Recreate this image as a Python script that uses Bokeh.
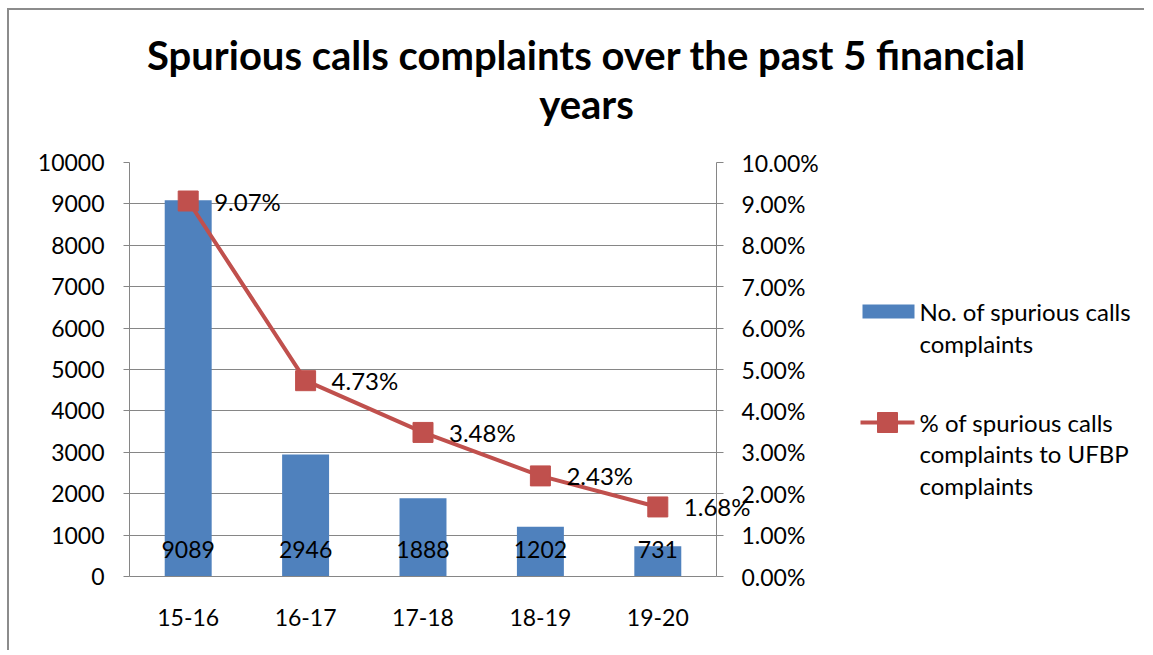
from bokeh.plotting import figure
from bokeh.layouts import column, row
from bokeh.models import (FactorRange, Range1d, LinearAxis, SingleIntervalTicker,
                          NumeralTickFormatter)
from bokeh.core.properties import value
from bokeh.embed import file_html
from bokeh.resources import INLINE

# ---- data ----
categories = ["15-16", "16-17", "17-18", "18-19", "19-20"]
complaints = [9089, 2946, 1888, 1202, 731]
pct_of_ufbp = [0.0907, 0.0473, 0.0348, 0.0243, 0.0168]
count_labels = [str(v) for v in complaints]
pct_labels = ["%.2f%%" % (v * 100) for v in pct_of_ufbp]

title_lines = ["Spurious calls complaints over the past 5 financial", "years"]
legend_bar = ["No. of spurious calls", "complaints"]
legend_line = ["% of spurious calls", "complaints to UFBP", "complaints"]

FONT = "Lato"
FS_AX = "23px"
FS_LBL = "24px"
BLUE = "#4F81BD"
RED = "#C0504D"
GRID = "#868686"

# picture-space layout: content starts at (OX, OY) inside the grey border
OX, OY = 9, 10
RIGHT = 1144
SPLIT_Y = 130      # title band bottom
SPLIT_X = 840      # main chart / legend split
BOTTOM = 650
FL, FR, FT, FB = 129, 716, 162, 576   # plot frame edges (picture px)


def blank(width, height, xr, yr):
    f = figure(width=width, height=height, x_range=xr, y_range=yr,
               output_backend="svg", toolbar_location=None,
               x_axis_location=None, y_axis_location=None,
               min_border=0, min_border_left=0, min_border_right=0,
               min_border_top=0, min_border_bottom=0)
    f.outline_line_color = None
    f.grid.visible = False
    f.background_fill_color = "white"
    f.border_fill_color = "white"
    return f


# ---- title band ----
tf = blank(RIGHT - OX, SPLIT_Y - OY, Range1d(OX, RIGHT), Range1d(SPLIT_Y, OY))
tf.text(x=[586, 586], y=[54, 103], text=title_lines, text_align="center",
        text_baseline="alphabetic", text_font=value(FONT), text_font_style="bold",
        text_font_size="40px", text_color="black")

# ---- main chart ----
MW, MH = SPLIT_X - OX, BOTTOM - SPLIT_Y
p = figure(width=MW, height=MH, x_range=FactorRange(*categories), y_range=Range1d(0, 10000),
           output_backend="svg", toolbar_location=None,
           min_border_left=FL - OX, min_border_right=SPLIT_X - FR,
           min_border_top=FT - SPLIT_Y, min_border_bottom=BOTTOM - FB)
p.extra_y_ranges = {"pct": Range1d(0, 0.10)}
p.outline_line_color = None
p.background_fill_color = "white"
p.border_fill_color = "white"

p.yaxis.ticker = SingleIntervalTicker(interval=1000, num_minor_ticks=0)
ax = p.yaxis[0]
ax2 = LinearAxis(y_range_name="pct",
                 ticker=SingleIntervalTicker(interval=0.01, num_minor_ticks=0),
                 formatter=NumeralTickFormatter(format="0.00%"))
p.add_layout(ax2, "right")
for a, out, stand in [(ax, 6, 19), (ax2, 7, 18)]:
    a.axis_line_color = GRID
    a.major_tick_line_color = GRID
    a.major_tick_out = out
    a.major_tick_in = 0
    a.minor_tick_line_color = None
    a.major_label_standoff = stand
    a.major_label_text_font = FONT
    a.major_label_text_font_size = FS_AX
    a.major_label_text_color = "black"

xa = p.xaxis[0]
xa.axis_line_color = GRID
xa.major_tick_line_color = None
xa.major_tick_out = 0
xa.major_tick_in = 0
xa.minor_tick_line_color = None
xa.major_label_standoff = 32
xa.major_label_text_font = FONT
xa.major_label_text_font_size = FS_AX
xa.major_label_text_color = "black"

p.xgrid.grid_line_color = None
p.ygrid.grid_line_color = GRID
p.ygrid.grid_line_width = 1

p.vbar(x=categories, top=complaints, width=0.4, fill_color=BLUE, line_color=None)
p.text(x=categories, y=[0] * len(categories), text=count_labels, y_offset=-27,
       text_align="center", text_baseline="middle", text_font=value(FONT),
       text_font_size=FS_AX, text_color="black")

p.line(x=categories, y=pct_of_ufbp, y_range_name="pct", line_color=RED, line_width=4)
p.scatter(x=categories, y=pct_of_ufbp, y_range_name="pct", marker="square", size=20,
          fill_color=RED, line_color=RED)
p.text(x=categories, y=pct_of_ufbp, y_range_name="pct", text=pct_labels, x_offset=26,
       text_align="left", text_baseline="middle", text_font=value(FONT),
       text_font_size=FS_LBL, text_color="black", level="overlay")

# ---- legend panel (its frame lines up with the chart frame vertically) ----
lg = blank(RIGHT - SPLIT_X, BOTTOM - SPLIT_Y, Range1d(SPLIT_X, RIGHT), Range1d(FB, FT))
lg.quad(left=[862], right=[914], top=[304], bottom=[318], fill_color=BLUE, line_color=None)
lg.line(x=[860, 914], y=[422, 422], line_color=RED, line_width=4)
lg.scatter(x=[887], y=[422], marker="square", size=20, fill_color=RED, line_color=RED)
lg.text(x=[919] * 5, y=[311, 343, 422, 453, 485], text=legend_bar + legend_line,
        text_align="left", text_baseline="middle", text_font=value(FONT),
        text_font_size=FS_LBL, text_color="black")

layout = column(tf, row(p, lg, spacing=0), spacing=0)
layout.margin = (8, 0, 0, 7)
layout.styles = {"border-top": "2px solid #8C8C8C", "border-left": "2px solid #8C8C8C"}

open("out.html", "w").write(file_html(layout, INLINE))
